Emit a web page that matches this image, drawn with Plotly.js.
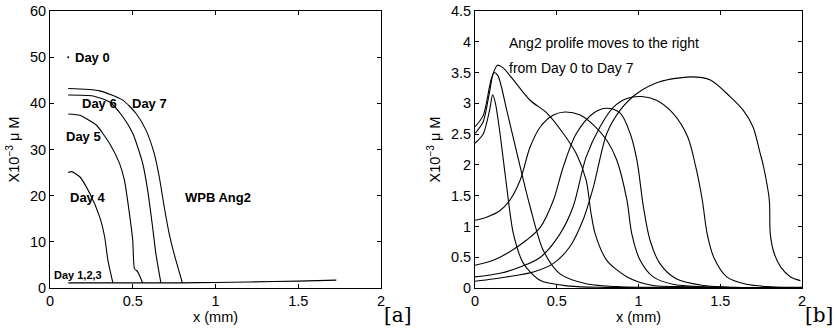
<!DOCTYPE html>
<html>
<head>
<meta charset="utf-8">
<script src="https://cdn.plot.ly/plotly-3.0.1.min.js"></script>
<style>html,body{margin:0;padding:0;background:#fff;}#chart{width:837px;height:335px;}</style>
</head>
<body>
<div id="chart"></div>
<script>
// ---------- Panel [a]: WPB Ang2 ----------
const day0X = [0.11];
const day0Y = [50];
const day123X = [0.11, 0.4, 0.8, 1.0, 1.2, 1.5, 1.73];
const day123Y = [1.1, 1.1, 1.12, 1.2, 1.3, 1.5, 1.7];
const day4X = [0.11, 0.13, 0.18, 0.24, 0.30, 0.33, 0.35, 0.38];
const day4Y = [25.0, 25.2, 24.1, 20.5, 15.4, 11.1, 6.0, 1.1];
const day5X = [0.11, 0.18, 0.28, 0.36, 0.42, 0.45, 0.48, 0.50, 0.51, 0.53, 0.56];
const day5Y = [37.7, 37.4, 35.3, 31.3, 27.0, 23.3, 16.1, 10.3, 4.2, 3.5, 1.1];
const day6X = [0.11, 0.26, 0.36, 0.44, 0.50, 0.56, 0.59, 0.62, 0.64, 0.67];
const day6Y = [41.8, 41.6, 40.3, 37.1, 33.5, 27.0, 21.2, 13.2, 7.4, 1.1];
const day7X = [0.11, 0.30, 0.44, 0.52, 0.58, 0.63, 0.66, 0.69, 0.72, 0.75, 0.80];
const day7Y = [43.2, 42.7, 40.7, 37.8, 34.2, 29.1, 24.1, 17.6, 11.8, 7.4, 1.1];

// ---------- Panel [b]: Ang2 profiles ----------
const cAX = [0, 0.05, 0.09, 0.108, 0.125, 0.153, 0.194, 0.235, 0.296, 0.40, 0.58, 0.8, 2.0];
const cAY = [2.35, 2.5, 2.9, 3.14, 3.0, 2.51, 1.64, 0.88, 0.40, 0.12, 0.03, 0.01, 0.0];
const cBX = [0, 0.05, 0.09, 0.116, 0.14, 0.194, 0.276, 0.337, 0.418, 0.52, 0.68, 0.89, 1.2, 2.0];
const cBY = [2.51, 2.7, 3.2, 3.50, 3.45, 2.89, 1.97, 1.32, 0.61, 0.23, 0.07, 0.02, 0.01, 0.0];
const cCX = [0, 0.05, 0.10, 0.137, 0.17, 0.235, 0.337, 0.44, 0.54, 0.62, 0.68, 0.71, 0.735, 0.806, 0.93, 1.09, 1.30, 2.0];
const cCY = [2.62, 2.8, 3.4, 3.62, 3.58, 3.38, 3.05, 2.84, 2.51, 2.18, 1.75, 1.21, 0.88, 0.45, 0.18, 0.04, 0.02, 0.0];
const cDX = [0, 0.07, 0.153, 0.214, 0.276, 0.337, 0.40, 0.48, 0.55, 0.643, 0.724, 0.806, 0.867, 0.929, 0.959, 1.01, 1.09, 1.21, 1.40, 2.0];
const cDY = [1.10, 1.15, 1.26, 1.43, 1.75, 2.29, 2.62, 2.81, 2.86, 2.81, 2.65, 2.40, 2.08, 1.43, 0.88, 0.45, 0.18, 0.06, 0.02, 0.0];
const cEX = [0, 0.112, 0.194, 0.316, 0.40, 0.48, 0.54, 0.62, 0.724, 0.806, 0.888, 0.949, 0.99, 1.03, 1.07, 1.13, 1.23, 1.40, 1.60, 2.0];
const cEY = [0.37, 0.45, 0.56, 0.78, 0.99, 1.43, 1.97, 2.51, 2.84, 2.92, 2.84, 2.51, 2.08, 1.32, 0.78, 0.40, 0.15, 0.04, 0.01, 0.0];
const cFX = [0, 0.153, 0.276, 0.40, 0.52, 0.60, 0.68, 0.765, 0.847, 0.929, 1.02, 1.11, 1.21, 1.30, 1.35, 1.39, 1.42, 1.46, 1.54, 1.66, 1.81, 2.0];
const cFY = [0.18, 0.24, 0.34, 0.50, 0.88, 1.32, 2.13, 2.62, 2.94, 3.08, 3.11, 3.05, 2.84, 2.46, 1.97, 1.43, 0.88, 0.50, 0.18, 0.06, 0.02, 0.01];
const cGX = [0, 0.194, 0.357, 0.48, 0.58, 0.66, 0.724, 0.806, 0.888, 0.99, 1.13, 1.32, 1.44, 1.56, 1.64, 1.70, 1.745, 1.765, 1.80, 1.806, 1.83, 1.87, 1.93, 1.99];
const cGY = [0.11, 0.18, 0.26, 0.40, 0.67, 1.10, 1.64, 2.51, 2.89, 3.16, 3.35, 3.43, 3.38, 3.11, 2.89, 2.62, 2.18, 1.97, 1.43, 0.88, 0.56, 0.34, 0.18, 0.12];

const xTicks = [0, 0.5, 1, 1.5, 2];
const xTickText = ['0', '0.5', '1', '1.5', '2'];
const yTicksA = [0, 10, 20, 30, 40, 50, 60];
const yTicksB = [0, 0.5, 1, 1.5, 2, 2.5, 3, 3.5, 4, 4.5];
const yTickTextB = ['0', '0.5', '1', '1.5', '2', '2.5', '3', '3.5', '4', '4.5'];

function ln(x, y, xa, ya, sm) {
  return {x: x, y: y, xaxis: xa, yaxis: ya, type: 'scatter', mode: 'lines',
    line: {color: '#000', width: 1.1, shape: 'spline', smoothing: sm},
    hoverinfo: 'skip', showlegend: false};
}
const traces = [
  {x: day0X, y: day0Y, xaxis: 'x', yaxis: 'y', type: 'scatter', mode: 'markers', marker: {color: '#000', size: 2}, showlegend: false},
  ln(day123X, day123Y, 'x', 'y', 0.6),
  ln(day4X, day4Y, 'x', 'y', 0.6),
  ln(day5X, day5Y, 'x', 'y', 0.5),
  ln(day6X, day6Y, 'x', 'y', 0.6),
  ln(day7X, day7Y, 'x', 'y', 0.6),
  ln(cAX, cAY, 'x2', 'y2', 0.8),
  ln(cBX, cBY, 'x2', 'y2', 0.8),
  ln(cCX, cCY, 'x2', 'y2', 0.8),
  ln(cDX, cDY, 'x2', 'y2', 0.9),
  ln(cEX, cEY, 'x2', 'y2', 0.9),
  ln(cFX, cFY, 'x2', 'y2', 0.9),
  ln(cGX, cGY, 'x2', 'y2', 0.8)
];

const FONT = 'Liberation Sans, Arial, Helvetica, sans-serif';
const axBase = {
  showline: true, linecolor: '#000', linewidth: 1, mirror: 'ticks',
  ticks: 'inside', ticklen: 4, tickcolor: '#000', tickwidth: 1,
  showgrid: false, zeroline: false,
  tickfont: {family: FONT, size: 14.5, color: '#000'}
};
const ytitle = {text: 'X10<sup>\u22123</sup> \u03bc M', font: {family: FONT, size: 14.5, color: '#000'}, standoff: 6};
const xtitle = {text: 'x (mm)', font: {family: FONT, size: 14.5, color: '#000'}, standoff: 2};

const layout = {
  width: 837, height: 335,
  margin: {l: 0, r: 0, t: 11, b: 47, pad: 0},
  paper_bgcolor: '#fff', plot_bgcolor: '#fff',
  showlegend: false,
  xaxis: Object.assign({}, axBase, {domain: [50/837, 381/837], range: [0, 2], tickvals: xTicks, ticktext: xTickText, title: xtitle, anchor: 'y'}),
  yaxis: Object.assign({}, axBase, {range: [0, 60], tickvals: yTicksA, title: ytitle, anchor: 'x'}),
  xaxis2: Object.assign({}, axBase, {domain: [475/837, 802/837], range: [0, 2], tickvals: xTicks, ticktext: xTickText, title: xtitle, anchor: 'y2'}),
  yaxis2: Object.assign({}, axBase, {range: [0, 4.5], tickvals: yTicksB, ticktext: yTickTextB, title: ytitle, anchor: 'x2'}),
  annotations: [
    {xref: 'x', yref: 'y', x: 0.254, y: 50, text: '<b>Day 0</b>', showarrow: false, font: {family: FONT, size: 13, color: '#000'}},
    {xref: 'x', yref: 'y', x: 0.302, y: 39.9, text: '<b>Day 6</b>', showarrow: false, font: {family: FONT, size: 13, color: '#000'}},
    {xref: 'x', yref: 'y', x: 0.604, y: 39.9, text: '<b>Day 7</b>', showarrow: false, font: {family: FONT, size: 13, color: '#000'}},
    {xref: 'x', yref: 'y', x: 0.205, y: 32.9, text: '<b>Day 5</b>', showarrow: false, font: {family: FONT, size: 13, color: '#000'}},
    {xref: 'x', yref: 'y', x: 0.224, y: 19.7, text: '<b>Day 4</b>', showarrow: false, font: {family: FONT, size: 13, color: '#000'}},
    {xref: 'x', yref: 'y', x: 1.015, y: 19.7, text: '<b>WPB Ang2</b>', showarrow: false, font: {family: FONT, size: 13, color: '#000'}},
    {xref: 'x', yref: 'y', x: 0.169, y: 2.9, text: '<b>Day 1,2,3</b>', showarrow: false, font: {family: FONT, size: 11, color: '#000'}},
    {xref: 'x2', yref: 'y2', x: 0.196, y: 3.98, xanchor: 'left', text: 'Ang2 prolife moves to the right', showarrow: false, font: {family: FONT, size: 14, color: '#000'}},
    {xref: 'x2', yref: 'y2', x: 0.196, y: 3.57, xanchor: 'left', text: 'from Day 0 to Day 7', showarrow: false, font: {family: FONT, size: 14, color: '#000'}},
    {xref: 'paper', yref: 'paper', x: 398/837, y: -0.097, xanchor: 'center', yanchor: 'middle', text: '[a]', showarrow: false, font: {family: 'DejaVu Serif, Liberation Serif, serif', size: 20, color: '#000'}},
    {xref: 'paper', yref: 'paper', x: 819/837, y: -0.097, xanchor: 'center', yanchor: 'middle', text: '[b]', showarrow: false, font: {family: 'DejaVu Serif, Liberation Serif, serif', size: 20, color: '#000'}}
  ]
};

Plotly.newPlot('chart', traces, layout, {staticPlot: true, displayModeBar: false});
</script>
</body>
</html>
